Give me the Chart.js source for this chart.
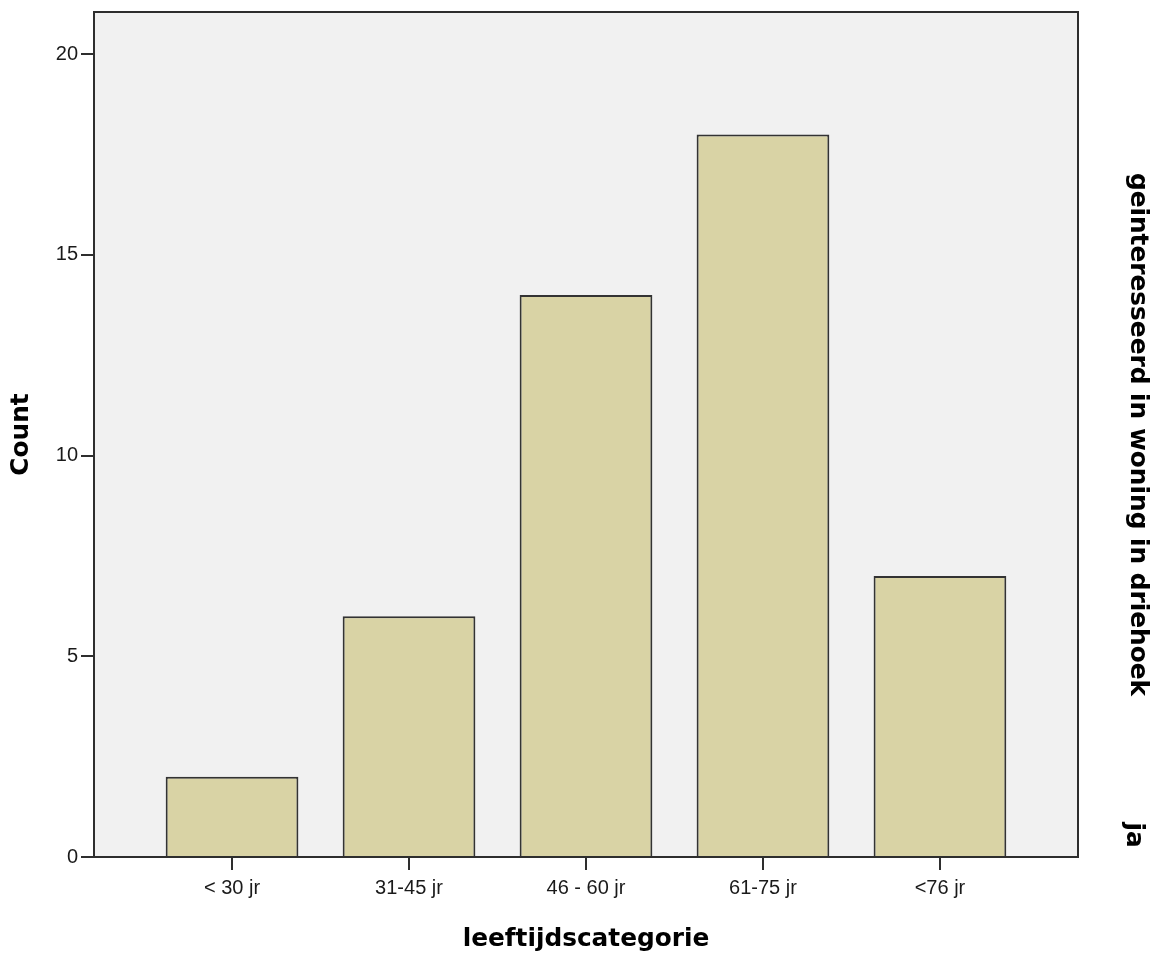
<!DOCTYPE html>
<html>
<head>
<meta charset="utf-8">
<script src="https://cdn.jsdelivr.net/npm/chart.js@4/dist/chart.umd.min.js"></script>
<style>
  html, body { margin: 0; padding: 0; background: #ffffff; }
  #wrap { width: 1160px; height: 963px; position: relative; }
</style>
</head>
<body>
<div id="wrap"><canvas id="c" width="1160" height="963"></canvas></div>
<script>
// ---- data ----
const categories = ['< 30 jr', '31-45 jr', '46 - 60 jr', '61-75 jr', '<76 jr'];
const counts = [2, 6, 14, 18, 7];
const yTicks = [0, 5, 10, 15, 20];
const xTitle = 'leeftijdscategorie';
const yTitle = 'Count';
const panelTitle = 'geinteresseerd in woning in driehoek';
const panelLabel = 'ja';

const TICK_FONT = { family: "'Liberation Sans', Arial, sans-serif", size: 20 };
const TITLE_FONT = "bold 24.8px 'DejaVu Sans', Verdana, sans-serif";
const AXIS_COLOR = '#2e2e2e';

const framePlugin = {
  id: 'frame',
  beforeDatasetsDraw(chart) {
    const { ctx, chartArea: a } = chart;
    ctx.save();
    ctx.fillStyle = '#f1f1f1';
    ctx.fillRect(a.left, a.top, a.right - a.left, a.bottom - a.top);
    ctx.restore();
  },
  afterDraw(chart) {
    const { ctx, chartArea: a } = chart;
    ctx.save();
    ctx.strokeStyle = AXIS_COLOR;
    ctx.lineWidth = 2;
    ctx.strokeRect(a.left, a.top, a.right - a.left, a.bottom - a.top);
    ctx.fillStyle = '#000';
    ctx.font = TITLE_FONT;
    ctx.textAlign = 'center';
    ctx.textBaseline = 'middle';
    const cy = (a.top + a.bottom) / 2;
    ctx.fillText(xTitle, (a.left + a.right) / 2, 940);
    ctx.save();
    ctx.translate(22, cy);
    ctx.rotate(-Math.PI / 2);
    ctx.fillText(yTitle, 0, 0);
    ctx.restore();
    ctx.save();
    ctx.translate(1137, cy);
    ctx.rotate(Math.PI / 2);
    ctx.fillText(panelTitle, 0, 0);
    ctx.restore();
    ctx.save();
    ctx.translate(1133, 835);
    ctx.rotate(Math.PI / 2);
    ctx.fillText(panelLabel, 0, 0);
    ctx.restore();
    ctx.restore();
  }
};

const chart = new Chart(document.getElementById('c'), {
  type: 'bar',
  data: {
    datasets: [{
      data: counts.map((v, i) => ({ x: i, y: v })),
      backgroundColor: '#d9d3a5',
      borderColor: '#333333',
      borderWidth: 2,
      borderSkipped: 'bottom',
      barPercentage: 0.75,
      categoryPercentage: 1.0
    }]
  },
  options: {
    responsive: false,
    animation: false,
    devicePixelRatio: 1,
    layout: { padding: { left: 0, right: 82, top: 12, bottom: 0 } },
    plugins: { legend: { display: false }, tooltip: { enabled: false } },
    scales: {
      x: {
        type: 'linear',
        min: -0.78,
        max: 4.78,
        offset: false,
        afterFit(s) { s.height = 106; s.paddingLeft = 0; s.paddingRight = 0; },
        afterBuildTicks(s) { s.ticks = categories.map((c, i) => ({ value: i })); },
        grid: { offset: false, drawOnChartArea: false, drawTicks: true, tickLength: 13, color: AXIS_COLOR, lineWidth: 2 },
        border: { display: true, color: AXIS_COLOR, width: 2 },
        ticks: {
          font: TICK_FONT, color: '#1a1a1a', padding: 6, maxRotation: 0, autoSkip: false,
          callback: (v) => categories[v]
        }
      },
      y: {
        min: 0,
        max: 21.05,
        afterFit(s) { s.width = 94; s.paddingTop = 0; s.paddingBottom = 0; },
        afterBuildTicks(s) { s.ticks = yTicks.map(v => ({ value: v })); },
        grid: { drawOnChartArea: false, drawTicks: true, tickLength: 13, color: AXIS_COLOR, lineWidth: 2 },
        border: { display: true, color: AXIS_COLOR, width: 2 },
        ticks: { font: TICK_FONT, color: '#1a1a1a', padding: 3 }
      }
    }
  },
  plugins: [framePlugin]
});
</script>
</body>
</html>
